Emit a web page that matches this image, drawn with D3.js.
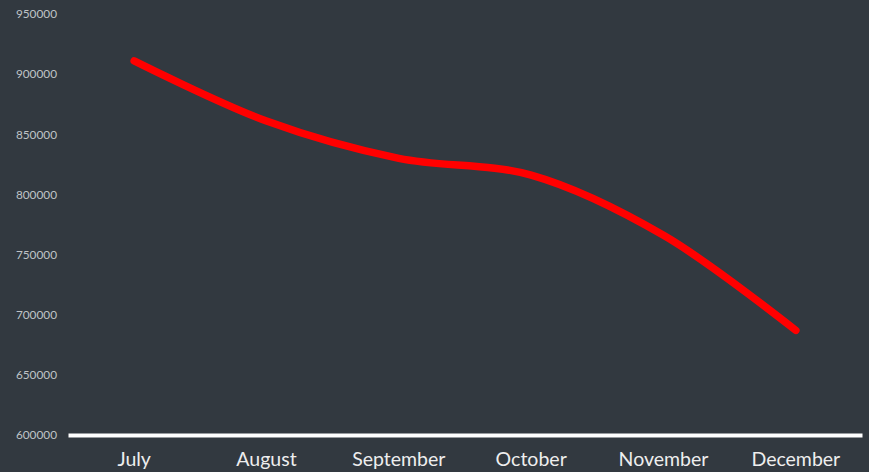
<!DOCTYPE html>
<html>
<head>
<meta charset="utf-8">
<script src="https://cdn.jsdelivr.net/npm/d3@7"></script>
<style>
    html, body { margin: 0; padding: 0; background: #323940; }
    svg { display: block; }
</style>
</head>
<body>
<div id="chart"></div>
<script>
// Chart data
const months = ['July', 'August', 'September', 'October', 'November', 'December'];
const values = [911000, 861000, 830000, 816000, 766000, 687000];
const yTicks = [600000, 650000, 700000, 750000, 800000, 850000, 900000, 950000];

const width = 869;
const height = 472;

const svg = d3.select('#chart')
    .append('svg')
    .attr('width', width)
    .attr('height', height);

svg.append('rect')
    .attr('width', width)
    .attr('height', height)
    .attr('fill', '#323940');

// Scales
const x = d3.scaleBand()
    .domain(months)
    .range([68, 862]);

const y = d3.scaleLinear()
    .domain([600000, 950000])
    .range([435, 14]);

// Y axis labels only (no line, no ticks)
const yAxis = svg.append('g')
    .attr('transform', 'translate(57,0)')
    .call(d3.axisLeft(y).tickValues(yTicks).tickSize(0).tickPadding(0).tickFormat(d3.format('d')));
yAxis.select('.domain').remove();
yAxis.selectAll('text')
    .attr('fill', '#bfc3c6')
    .style('font-family', 'Lato, sans-serif')
    .style('font-size', '11.8px');

// X axis: thick white baseline + month labels
const xAxis = svg.append('g')
    .attr('transform', `translate(0,${y(600000)})`)
    .call(d3.axisBottom(x).tickSize(0).tickPadding(17));
xAxis.select('.domain')
    .attr('stroke', '#ffffff')
    .attr('stroke-width', 4);
xAxis.selectAll('text')
    .attr('fill', '#eeeeee')
    .style('font-family', 'Lato, sans-serif')
    .style('font-size', '19.5px');

// Smoothed red line
const line = d3.line()
    .x((d, i) => x(months[i]) + x.bandwidth() / 2)
    .y(d => y(d))
    .curve(d3.curveCatmullRom.alpha(0.5));

svg.append('path')
    .datum(values)
    .attr('d', line)
    .attr('fill', 'none')
    .attr('stroke', '#ff0000')
    .attr('stroke-width', 7.5)
    .attr('stroke-linecap', 'round')
    .attr('stroke-linejoin', 'round');
</script>
</body>
</html>
